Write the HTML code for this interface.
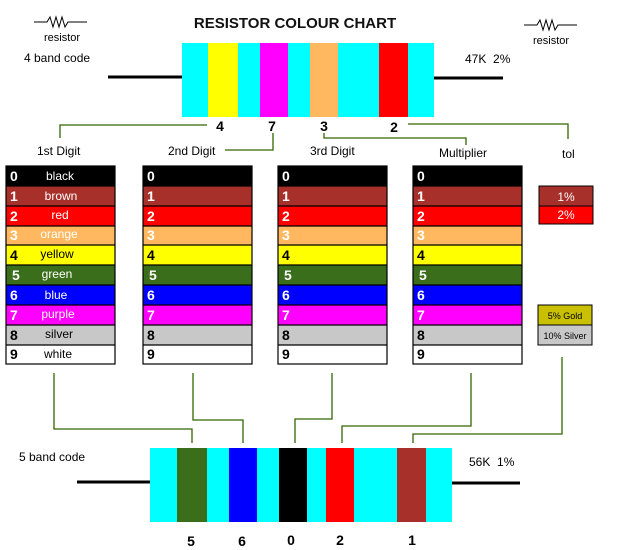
<!DOCTYPE html>
<html><head><meta charset="utf-8"><style>
html,body{margin:0;padding:0;background:#fff;}
svg{display:block;font-family:"Liberation Sans",Arial,sans-serif;}
</style></head><body>
<svg width="625" height="550" viewBox="0 0 625 550" xmlns="http://www.w3.org/2000/svg">
<text x="295" y="28" font-size="15" font-weight="bold" text-anchor="middle" fill="#111">RESISTOR COLOUR CHART</text>
<polyline points="34,22 47,22 50,17 53,27 56,17 59,27 62,17 65,27 68,22 87,22" fill="none" stroke="#000" stroke-width="1"/>
<text x="62" y="41" font-size="11" text-anchor="middle">resistor</text>
<polyline points="524,25 537,25 540,20 543,30 546,20 549,30 552,20 555,30 558,25 577,25" fill="none" stroke="#000" stroke-width="1"/>
<text x="551" y="44" font-size="11" text-anchor="middle">resistor</text>
<text x="24" y="62" font-size="12">4 band code</text>
<text x="465" y="63" font-size="12">47K&#160;&#160;2%</text>
<line x1="108" y1="77" x2="182" y2="77" stroke="#000" stroke-width="3"/>
<line x1="434" y1="78" x2="503" y2="78" stroke="#000" stroke-width="3"/>
<rect x="182" y="43" width="252" height="74" fill="#00ffff"/>
<rect x="208" y="43" width="30" height="74" fill="#ffff00"/>
<rect x="260" y="43" width="28" height="74" fill="#ff00ff"/>
<rect x="310" y="43" width="28" height="74" fill="#ffb860"/>
<rect x="379" y="43" width="29" height="74" fill="#ff0000"/>
<g font-size="14" font-weight="bold" text-anchor="middle">
<text x="220" y="131">4</text><text x="272" y="131">7</text><text x="324" y="131">3</text><text x="394" y="132">2</text>
</g>
<g fill="none" stroke="#336600" stroke-width="1.3">
<polyline points="60,138 60,125 207,125"/>
<polyline points="408,124 568,124 568,139"/>
<polyline points="273,133 273,150 225,150"/>
<polyline points="324,133 324,138 466,138 466,145"/>
<polyline points="54,373 54,429 192,429 192,443"/>
<polyline points="193,373 193,420 243,420 243,443"/>
<polyline points="332,373 332,419 295,419 295,443"/>
<polyline points="471,373 471,426 342,426 342,443"/>
<polyline points="562,357 562,434 413,434 413,443"/>
</g>
<g font-size="12">
<text x="37" y="155">1st Digit</text>
<text x="168" y="155">2nd Digit</text>
<text x="310" y="155">3rd Digit</text>
<text x="439" y="157">Multiplier</text>
<text x="562" y="158">tol</text>
</g>
<defs>
<g id="rows">
<rect x="0" y="0" width="109" height="20" fill="#000"/>
<rect x="0" y="20" width="109" height="20" fill="#a8302a"/>
<rect x="0" y="40" width="109" height="20" fill="#ff0000"/>
<rect x="0" y="60" width="109" height="19" fill="#ffb860"/>
<rect x="0" y="79" width="109" height="20" fill="#ffff00"/>
<rect x="0" y="99" width="109" height="20" fill="#3a6e1a"/>
<rect x="0" y="119" width="109" height="20" fill="#0000ff"/>
<rect x="0" y="139" width="109" height="20" fill="#ff00ff"/>
<rect x="0" y="159" width="109" height="20" fill="#c8c8c8"/>
<rect x="0" y="179" width="109" height="19" fill="#fff"/>
<g stroke="#000" stroke-width="1.2" fill="none">
<rect x="0" y="0" width="109" height="198"/>
<line x1="0" y1="20" x2="109" y2="20"/><line x1="0" y1="40" x2="109" y2="40"/><line x1="0" y1="60" x2="109" y2="60"/><line x1="0" y1="79" x2="109" y2="79"/><line x1="0" y1="99" x2="109" y2="99"/><line x1="0" y1="119" x2="109" y2="119"/><line x1="0" y1="139" x2="109" y2="139"/><line x1="0" y1="159" x2="109" y2="159"/><line x1="0" y1="179" x2="109" y2="179"/>
</g>
<g font-size="14" font-weight="bold">
<text x="4" y="15" fill="#fff">0</text><text x="4" y="35" fill="#fff">1</text><text x="4" y="55" fill="#fff">2</text><text x="4" y="74" fill="#fff">3</text><text x="4" y="94" fill="#000">4</text><text x="6" y="114" fill="#fff">5</text><text x="4" y="134" fill="#fff">6</text><text x="4" y="154" fill="#fff">7</text><text x="4" y="174" fill="#000">8</text><text x="4" y="193" fill="#000">9</text>
</g>
</g>
</defs>
<use href="#rows" x="6" y="166"/>
<use href="#rows" x="143" y="166"/>
<use href="#rows" x="278" y="166"/>
<use href="#rows" x="413" y="166"/>
<g font-size="12" text-anchor="middle">
<text x="60" y="180" fill="#fff">black</text>
<text x="61" y="200" fill="#fff">brown</text>
<text x="60" y="219" fill="#fff">red</text>
<text x="59" y="238" fill="#fff">orange</text>
<text x="57" y="258" fill="#000">yellow</text>
<text x="57" y="278" fill="#fff">green</text>
<text x="56" y="299" fill="#fff">blue</text>
<text x="58" y="318" fill="#fff">purple</text>
<text x="59" y="338" fill="#000">silver</text>
<text x="58" y="358" fill="#000">white</text>
</g>
<rect x="539" y="186" width="54" height="20" fill="#a8302a" stroke="#000"/>
<rect x="539" y="206" width="54" height="18" fill="#ff0000" stroke="#000"/>
<text x="566" y="201" font-size="12" fill="#fff" text-anchor="middle">1%</text>
<text x="566" y="219" font-size="12" fill="#fff" text-anchor="middle">2%</text>
<rect x="538" y="305" width="54" height="20" fill="#c8c000" stroke="#000"/>
<rect x="538" y="325" width="54" height="20" fill="#c8c8c8" stroke="#000"/>
<text x="565" y="319" font-size="9" text-anchor="middle">5% Gold</text>
<text x="565" y="339" font-size="9" text-anchor="middle">10% Silver</text>
<text x="19" y="461" font-size="12">5 band code</text>
<text x="469" y="466" font-size="12">56K&#160;&#160;1%</text>
<line x1="77" y1="482" x2="150" y2="482" stroke="#000" stroke-width="3"/>
<line x1="451" y1="483" x2="520" y2="483" stroke="#000" stroke-width="3"/>
<rect x="150" y="448" width="302" height="74" fill="#00ffff"/>
<rect x="177" y="448" width="30" height="74" fill="#3a6e1a"/>
<rect x="229" y="448" width="28" height="74" fill="#0000ff"/>
<rect x="279" y="448" width="28" height="74" fill="#000"/>
<rect x="326" y="448" width="28" height="74" fill="#ff0000"/>
<rect x="397" y="448" width="29" height="74" fill="#a8302a"/>
<g font-size="14" font-weight="bold" text-anchor="middle">
<text x="191" y="546">5</text><text x="242" y="546">6</text><text x="291" y="545">0</text><text x="340" y="545">2</text><text x="412" y="545">1</text>
</g>
</svg>
</body></html>
